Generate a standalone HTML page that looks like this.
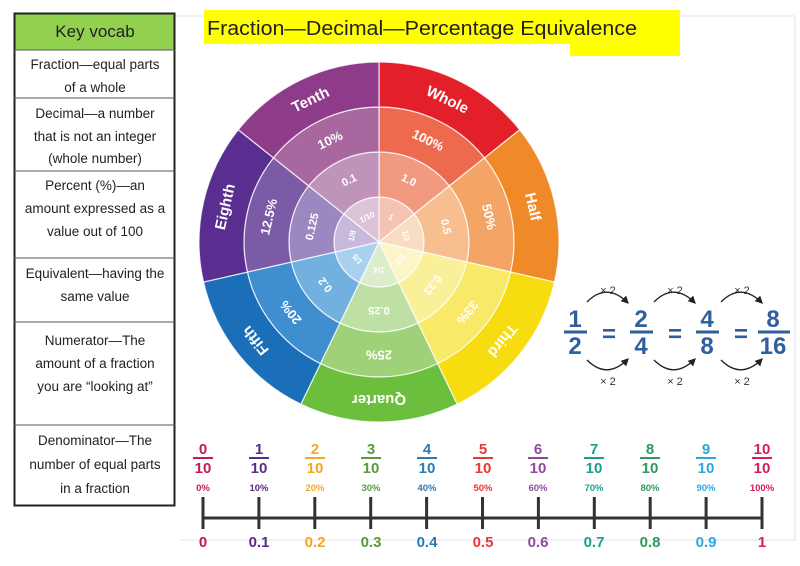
<!DOCTYPE html>
<html><head><meta charset="utf-8"><style>
html,body{margin:0;padding:0;background:#fff;width:800px;height:566px;overflow:hidden}
svg{display:block;font-family:"Liberation Sans",sans-serif}
</style></head><body>
<svg id="s" width="800" height="566" viewBox="0 0 800 566" xmlns="http://www.w3.org/2000/svg">
<line x1="175" y1="16" x2="795" y2="16" stroke="#dde6f0" stroke-width="1"/>
<line x1="795" y1="16" x2="795" y2="540" stroke="#dde6f0" stroke-width="1"/>
<line x1="180" y1="540" x2="795" y2="540" stroke="#dde6f0" stroke-width="1"/>
<rect x="14" y="13" width="161" height="37" fill="#92d050"/>
<rect x="14.5" y="13.5" width="160" height="492" fill="none" stroke="#222" stroke-width="2"/>
<g stroke="#555" stroke-width="1">
<line x1="14" y1="50" x2="175" y2="50"/><line x1="14" y1="98" x2="175" y2="98"/>
<line x1="14" y1="171" x2="175" y2="171"/><line x1="14" y1="258" x2="175" y2="258"/>
<line x1="14" y1="322" x2="175" y2="322"/><line x1="14" y1="425" x2="175" y2="425"/>
</g>
<g font-size="13.5" fill="#222" text-anchor="middle">
<text x="95" y="37" font-size="17">Key vocab</text>
<text x="95" y="69">Fraction—equal parts</text><text x="95" y="92">of a whole</text>
<text x="95" y="118">Decimal—a number</text><text x="95" y="141">that is not an integer</text><text x="95" y="163">(whole number)</text>
<text x="95" y="190">Percent (%)—an</text><text x="95" y="213">amount expressed as a</text><text x="95" y="236">value out of 100</text>
<text x="95" y="278">Equivalent—having the</text><text x="95" y="301">same value</text>
<text x="95" y="345">Numerator—The</text><text x="95" y="368">amount of a fraction</text><text x="95" y="391">you are “looking at”</text>
<text x="95" y="445">Denominator—The</text><text x="95" y="469">number of equal parts</text><text x="95" y="493">in a fraction</text>
</g>
<rect x="204" y="10" width="476" height="34" fill="#ffff00"/>
<rect x="570" y="40" width="110" height="16" fill="#ffff00"/>
<text x="207" y="35" font-size="20.5" fill="#222" textLength="430" lengthAdjust="spacingAndGlyphs">Fraction—Decimal—Percentage Equivalence</text>
<g id="wheel"></g>
<g fill="#fff" font-weight="bold" text-anchor="middle" dominant-baseline="middle">
<g font-size="15">
<text transform="translate(379,242) rotate(25.7) translate(0,-157)">Whole</text>
<text transform="translate(379,242) rotate(77.1) translate(0,-157)">Half</text>
<text transform="translate(379,242) rotate(128.6) translate(0,-157)">Third</text>
<text transform="translate(379,242) rotate(180) translate(0,-157)">Quarter</text>
<text transform="translate(379,242) rotate(231.4) translate(0,-157)">Fifth</text>
<text transform="translate(379,242) rotate(282.9) translate(0,-157)">Eighth</text>
<text transform="translate(379,242) rotate(334.3) translate(0,-157)">Tenth</text>
</g>
<g font-size="13">
<text transform="translate(379,242) rotate(25.7) translate(0,-112)">100%</text>
<text transform="translate(379,242) rotate(77.1) translate(0,-112)">50%</text>
<text transform="translate(379,242) rotate(128.6) translate(0,-112)">33%</text>
<text transform="translate(379,242) rotate(180) translate(0,-112)">25%</text>
<text transform="translate(379,242) rotate(231.4) translate(0,-112)">20%</text>
<text transform="translate(379,242) rotate(282.9) translate(0,-112)">12.5%</text>
<text transform="translate(379,242) rotate(334.3) translate(0,-112)">10%</text>
</g>
<g font-size="11">
<text transform="translate(379,242) rotate(25.7) translate(0,-68)">1.0</text>
<text transform="translate(379,242) rotate(77.1) translate(0,-68)">0.5</text>
<text transform="translate(379,242) rotate(128.6) translate(0,-68)">0.33</text>
<text transform="translate(379,242) rotate(180) translate(0,-68)">0.25</text>
<text transform="translate(379,242) rotate(231.4) translate(0,-68)">0.2</text>
<text transform="translate(379,242) rotate(282.9) translate(0,-68)">0.125</text>
<text transform="translate(379,242) rotate(334.3) translate(0,-68)">0.1</text>
</g>
<g font-size="8">
<text transform="translate(379,242) rotate(25.7) translate(0,-27)">1</text>
<text transform="translate(379,242) rotate(77.1) translate(0,-27)">1/2</text>
<text transform="translate(379,242) rotate(128.6) translate(0,-27)">1/3</text>
<text transform="translate(379,242) rotate(180) translate(0,-27)">1/4</text>
<text transform="translate(379,242) rotate(231.4) translate(0,-27)">1/5</text>
<text transform="translate(379,242) rotate(282.9) translate(0,-27)">1/8</text>
<text transform="translate(379,242) rotate(334.3) translate(0,-27)">1/10</text>
</g>
</g>
<defs><marker id="ah" markerWidth="6" markerHeight="6" refX="5" refY="3" orient="auto"><path d="M0,0 L6,3 L0,6 z" fill="#222"/></marker></defs>
<g fill="none" stroke="#222" stroke-width="1.3" marker-end="url(#ah)">
<path d="M587,302 Q607,282 628,303"/><path d="M654,302 Q674,282 695,303"/><path d="M721,302 Q741,282 762,303"/>
<path d="M587,360 Q607,380 628,359"/><path d="M654,360 Q674,380 695,359"/><path d="M721,360 Q741,380 762,359"/>
</g>
<g font-size="11" fill="#333" text-anchor="middle">
<text x="608" y="294">× 2</text><text x="675" y="294">× 2</text><text x="742" y="294">× 2</text>
<text x="608" y="385">× 2</text><text x="675" y="385">× 2</text><text x="742" y="385">× 2</text>
</g>
<g fill="#2f5f9f" font-weight="bold" font-size="24" text-anchor="middle">
<text x="575" y="327">1</text><text x="575" y="354">2</text>
<text x="641" y="327">2</text><text x="641" y="354">4</text>
<text x="707" y="327">4</text><text x="707" y="354">8</text>
<text x="773" y="327">8</text><text x="773" y="354">16</text>
<text x="609" y="342">=</text><text x="675" y="342">=</text><text x="741" y="342">=</text>
</g>
<g stroke="#2f5f9f" stroke-width="3">
<line x1="564" y1="332" x2="587" y2="332"/><line x1="630" y1="332" x2="653" y2="332"/>
<line x1="696" y1="332" x2="719" y2="332"/><line x1="758" y1="332" x2="790" y2="332"/>
</g>
<g id="nl"></g>
<line x1="203" y1="518" x2="762" y2="518" stroke="#333" stroke-width="3"/>
<g stroke-width="2">
<line x1="193" x2="213" y1="458" y2="458" stroke="#c2185b"/><line x1="249" x2="269" y1="458" y2="458" stroke="#5b2c83"/><line x1="305" x2="325" y1="458" y2="458" stroke="#f5a623"/><line x1="361" x2="381" y1="458" y2="458" stroke="#5a9a3a"/><line x1="417" x2="437" y1="458" y2="458" stroke="#2a7ab8"/><line x1="473" x2="493" y1="458" y2="458" stroke="#e53935"/><line x1="528" x2="548" y1="458" y2="458" stroke="#8e4a9e"/><line x1="584" x2="604" y1="458" y2="458" stroke="#1aa08a"/><line x1="640" x2="660" y1="458" y2="458" stroke="#2e9a5a"/><line x1="696" x2="716" y1="458" y2="458" stroke="#2ea8dc"/><line x1="752" x2="772" y1="458" y2="458" stroke="#d81b60"/>
</g>
<g text-anchor="middle" font-weight="bold">
<g font-size="15">
<text x="203" y="454" fill="#c2185b">0</text><text x="259" y="454" fill="#5b2c83">1</text><text x="315" y="454" fill="#f5a623">2</text><text x="371" y="454" fill="#5a9a3a">3</text><text x="427" y="454" fill="#2a7ab8">4</text><text x="483" y="454" fill="#e53935">5</text><text x="538" y="454" fill="#8e4a9e">6</text><text x="594" y="454" fill="#1aa08a">7</text><text x="650" y="454" fill="#2e9a5a">8</text><text x="706" y="454" fill="#2ea8dc">9</text><text x="762" y="454" fill="#d81b60">10</text>
<text x="203" y="473" fill="#c2185b">10</text><text x="259" y="473" fill="#5b2c83">10</text><text x="315" y="473" fill="#f5a623">10</text><text x="371" y="473" fill="#5a9a3a">10</text><text x="427" y="473" fill="#2a7ab8">10</text><text x="483" y="473" fill="#e53935">10</text><text x="538" y="473" fill="#8e4a9e">10</text><text x="594" y="473" fill="#1aa08a">10</text><text x="650" y="473" fill="#2e9a5a">10</text><text x="706" y="473" fill="#2ea8dc">10</text><text x="762" y="473" fill="#d81b60">10</text>
</g>
<g font-size="9.5">
<text x="203" y="491" fill="#c2185b">0%</text><text x="259" y="491" fill="#5b2c83">10%</text><text x="315" y="491" fill="#f5a623">20%</text><text x="371" y="491" fill="#5a9a3a">30%</text><text x="427" y="491" fill="#2a7ab8">40%</text><text x="483" y="491" fill="#e53935">50%</text><text x="538" y="491" fill="#8e4a9e">60%</text><text x="594" y="491" fill="#1aa08a">70%</text><text x="650" y="491" fill="#2e9a5a">80%</text><text x="706" y="491" fill="#2ea8dc">90%</text><text x="762" y="491" fill="#d81b60">100%</text>
</g>
<g font-size="15">
<text x="203" y="547" fill="#c2185b">0</text><text x="259" y="547" fill="#5b2c83">0.1</text><text x="315" y="547" fill="#f5a623">0.2</text><text x="371" y="547" fill="#5a9a3a">0.3</text><text x="427" y="547" fill="#2a7ab8">0.4</text><text x="483" y="547" fill="#e53935">0.5</text><text x="538" y="547" fill="#8e4a9e">0.6</text><text x="594" y="547" fill="#1aa08a">0.7</text><text x="650" y="547" fill="#2e9a5a">0.8</text><text x="706" y="547" fill="#2ea8dc">0.9</text><text x="762" y="547" fill="#d81b60">1</text>
</g>
</g>
</svg>
<script>
var NS="http://www.w3.org/2000/svg";
var cx=379,cy=242,radii=[0,45,90,135,180];
var cols=[["#f5c3b4","#f29a80","#ee6a4f","#e3202a"],["#f9dcc4","#f7bf90","#f4a566","#f08a28"],["#fbf5c8","#faf09a","#f8e968","#f7dc10"],["#dcedcc","#bfe0a4","#9fd178","#6cbf3c"],["#a9d0ee","#72b0e0","#3f8fd0","#1a6fb8"],["#c6b9dc","#9c88c0","#7b5aa6","#5a2e91"],["#dcc3d8","#c093ba","#a9679f","#8e3b8a"]];
var w=document.getElementById("wheel");
function pt(r,a){a=a*Math.PI/180;return [cx+r*Math.sin(a),cy-r*Math.cos(a)];}
for(var i=0;i<7;i++){var a0=i*360/7,a1=(i+1)*360/7;
for(var k=0;k<4;k++){var r0=radii[k],r1=radii[k+1];
var p1=pt(r1,a0),p2=pt(r1,a1),p3=pt(r0,a1),p4=pt(r0,a0);
var d="M"+p1+" A"+r1+","+r1+" 0 0 1 "+p2+" L"+p3+(r0>0?" A"+r0+","+r0+" 0 0 0 "+p4:"")+" Z";
var p=document.createElementNS(NS,"path");p.setAttribute("d",d);p.setAttribute("fill",cols[i][k]);
p.setAttribute("stroke","#fff");p.setAttribute("stroke-width","1.2");p.setAttribute("stroke-opacity","0.8");w.appendChild(p);}}
var nl=document.getElementById("nl");
for(var j=0;j<=10;j++){var x=203+j*55.9;var l=document.createElementNS(NS,"line");
l.setAttribute("x1",x);l.setAttribute("x2",x);l.setAttribute("y1",497);l.setAttribute("y2",529);
l.setAttribute("stroke","#333");l.setAttribute("stroke-width","3");nl.appendChild(l);}
</script>
</body></html>
